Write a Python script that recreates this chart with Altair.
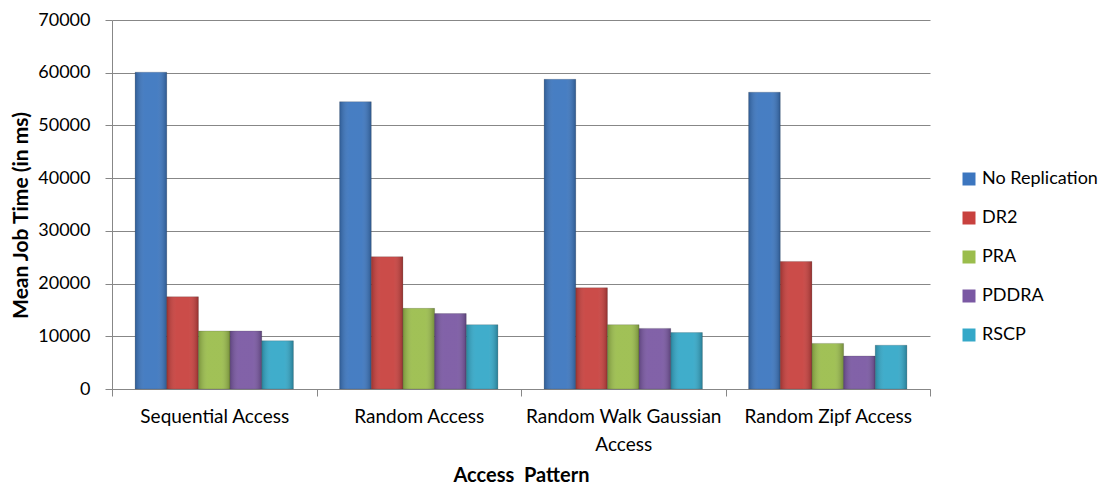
import altair as alt
import pandas as pd

categories = ["Sequential Access", "Random Access", "Random Walk Gaussian Access", "Random Zipf Access"]
series = ["No Replication", "DR2", "PRA", "PDDRA", "RSCP"]
no_replication = [60100, 54500, 58750, 56300]
dr2 = [17500, 25100, 19200, 24200]
pra = [11000, 15300, 12200, 8650]
pddra = [11000, 14300, 11500, 6250]
rscp = [9150, 12200, 10700, 8300]
colors = ["#3c76bf", "#c8413e", "#9bbd4c", "#7a58a3", "#34a8c8"]

values = [no_replication, dr2, pra, pddra, rscp]
rows = []
for s, vals in zip(series, values):
    for c, v in zip(categories, vals):
        rows.append({"pattern": c, "method": s, "time": v})
df = pd.DataFrame(rows)

font = "Lato"
grid = "#878787"

x = alt.X("pattern:N", sort=categories, title="Access\u00a0\u00a0Pattern",
          scale=alt.Scale(paddingInner=0, paddingOuter=0),
          axis=alt.Axis(labelAngle=0, tickBand="extent", domainColor=grid, tickColor=grid,
                        tickSize=7, labelPadding=11, labelFontSize=19, labelFont=font,
                        labelColor="#000", titleFont=font, titleFontSize=20, titleFontWeight="bold",
                        titleColor="#000", titleY=86, titleBaseline="middle", labelLimit=300,
                        labelExpr="datum.label == 'Random Walk Gaussian Access' ? ['Random Walk Gaussian', 'Access'] : datum.label",
                        labelLineHeight=28))
xo = alt.XOffset("method:N", sort=series, scale=alt.Scale(paddingInner=0, paddingOuter=0.73))
y = alt.Y("time:Q", title="Mean Job Time (in ms)",
          scale=alt.Scale(domain=[0, 70000]),
          axis=alt.Axis(values=list(range(0, 70001, 10000)), format="d", gridColor=grid,
                        domainColor=grid, tickColor=grid, tickSize=7, labelPadding=15,
                        labelFontSize=18, labelFont=font, labelColor="#000",
                        titleFont=font, titleFontSize=21, titleFontWeight="bold",
                        titleColor="#000", titleX=-91, titleY=195, titleBaseline="middle"))
color = alt.Color("method:N", sort=series, title=None,
                  scale=alt.Scale(domain=series, range=colors),
                  legend=alt.Legend(orient="none", legendX=848, legendY=150, symbolType="square",
                                    symbolSize=169, symbolStrokeWidth=0, labelFont=font,
                                    labelFontSize=18, labelColor="#000", rowPadding=21,
                                    labelOffset=4, labelLimit=200, padding=0))

bars = alt.Chart(df).mark_bar(stroke="#333", strokeWidth=0.4, strokeOpacity=0.5).encode(
    x=x, xOffset=xo, y=y, color=color)

shade = alt.Chart(df).mark_bar(
    fill=alt.Gradient(gradient="linear", x1=0, x2=1, y1=0, y2=0,
                      stops=[alt.GradientStop(color="rgba(0,0,0,0.22)", offset=0),
                             alt.GradientStop(color="rgba(255,255,255,0.06)", offset=0.3),
                             alt.GradientStop(color="rgba(255,255,255,0.06)", offset=0.7),
                             alt.GradientStop(color="rgba(0,0,0,0.25)", offset=1)])
).encode(x=x, xOffset=xo, y=y)

chart = alt.layer(bars, shade).properties(
    width=818, height=369,
    autosize=alt.AutoSizeParams(type="none"),
    padding={"left": 104, "top": 12, "right": 172, "bottom": 96},
).configure_view(stroke=None).configure_axis(gridWidth=1)

chart.save("out.html", embed_options={"renderer": "svg", "actions": False})
